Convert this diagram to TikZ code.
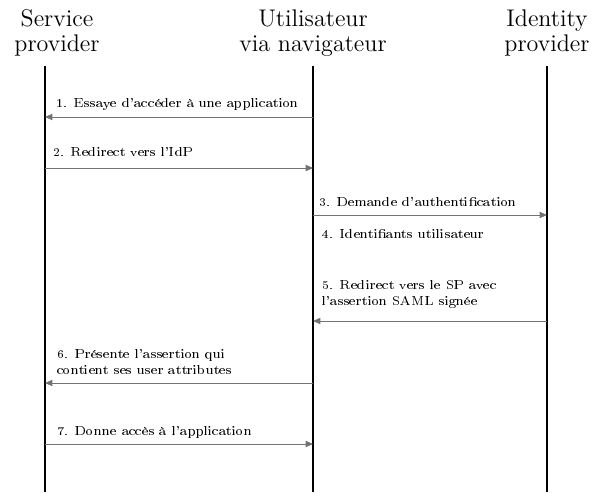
\documentclass[tikz,border=0pt]{standalone}
\usepackage[T1,TU]{fontenc}
\usepackage{tikz}
\usetikzlibrary{arrows.meta}

\newcommand{\msgfont}{\fontencoding{T1}\fontfamily{qcs}\fontsize{6.6}{8.2}\selectfont}

\begin{document}
\begin{tikzpicture}[x=0.54pt,y=-0.54pt,
    head/.style={align=center,anchor=north,inner sep=0pt,font=\fontsize{13}{13.6}\selectfont},
    lifeline/.style={line width=1.1pt},
    msg/.style={draw=black!55,line width=0.5pt,-{Triangle[length=4pt,width=3.4pt]}},
    lbl/.style={anchor=base west,inner sep=0pt,align=left,font=\msgfont}]
  \useasboundingbox (0,0) rectangle (601,499);
  % acteurs
  \node[head] (sp)  at (57,9)  {Service\\provider};
  \node[head] (usr) at (313,9) {Utilisateur\\via navigateur};
  \node[head] (idp) at (547,9) {Identity\\provider};
  % lignes de vie
  \coordinate (sptop) at (45,66);   \coordinate (spbot) at (45,492);
  \coordinate (utop) at (313,66);   \coordinate (ubot) at (313,492);
  \coordinate (itop) at (547,66);   \coordinate (ibot) at (547,492);
  \draw[lifeline] (sptop) -- (spbot);
  \draw[lifeline] (utop) -- (ubot);
  \draw[lifeline] (itop) -- (ibot);
  % points des messages
  \foreach \n/\y in {1/117,2/168,3/215,5/321,6/383,7/444}{
    \coordinate (sp\n) at (45,\y);
    \coordinate (u\n) at (313,\y);
    \coordinate (i\n) at (547,\y);
  }
  % messages (base = derniere ligne)
  \draw[msg] (u1) -- (sp1); \node[lbl] (m1) at (56,107) {1. Essaye d'accéder à une application};
  \draw[msg] (sp2) -- (u2); \node[lbl] (m2) at (53,156) {2. Redirect vers l'IdP};
  \draw[msg] (u3) -- (i3);  \node[lbl] (m3) at (319,206) {3. Demande d'authentification};
  \node[lbl] (m4) at (322,238) {4. Identifiants utilisateur};
  \draw[msg] (i5) -- (u5);  \node[lbl] (m5) at (322,305) {5. Redirect vers le SP avec\\l'assertion SAML signée};
  \draw[msg] (u6) -- (sp6); \node[lbl] (m6) at (57,374) {6. Présente l'assertion qui\\contient ses user attributes};
  \draw[msg] (sp7) -- (u7); \node[lbl] (m7) at (57,435) {7. Donne accès à l'application};
\end{tikzpicture}
\end{document}
